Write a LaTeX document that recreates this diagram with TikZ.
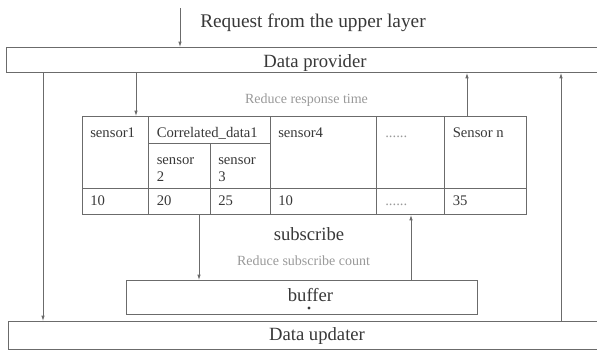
\documentclass[tikz,border=0pt]{standalone}
\usepackage{fontspec}
\setmainfont{Liberation Serif}
\usetikzlibrary{arrows.meta}
\definecolor{linegray}{gray}{0.42}
\definecolor{inkgray}{gray}{0.22}
\definecolor{notegray}{gray}{0.6}
\tikzset{
  box/.style={draw=linegray, line width=0.7pt, inner sep=0pt, anchor=north west},
  rule/.style={draw=linegray, line width=0.7pt},
  flow/.style={draw=linegray, line width=0.6pt, -{Latex[length=4pt,width=2.6pt]}},
  big/.style={text=inkgray, font=\fontsize{14}{16}\selectfont, inner sep=0pt, anchor=base},
  note/.style={text=notegray, font=\fontsize{10.5}{12}\selectfont, inner sep=0pt, anchor=base},
  cell/.style={text=inkgray, font=\fontsize{11}{12.75}\selectfont, inner sep=0pt, anchor=base west, align=left},
}

\begin{document}
\begin{tikzpicture}[x=0.75pt, y=-0.75pt]
		\useasboundingbox (0,0) rectangle (597,351);
		%%%%% BOXES %%%%%
		\node[box, minimum width=591*0.75pt, minimum height=25*0.75pt] (provider) at (6,47) {};
		\node[box, minimum width=444*0.75pt, minimum height=98*0.75pt] (tbl) at (82,116) {};
		\node[box, minimum width=351.5*0.75pt, minimum height=34*0.75pt] (buffer) at (125.5,280) {};
		\node[box, minimum width=589*0.75pt, minimum height=28*0.75pt] (updater) at (8,321) {};
		
		%%%%% TABLE GRID %%%%%
		\foreach \cx in {148.5,270,376,444.5}
			\draw[rule] (\cx,116) -- (\cx,214);
		\draw[rule] (82,188) -- (526,188);
		\draw[rule] (148.5,143) -- (270,143);
		\draw[rule] (210,143) -- (210,214);
		
		%%%%% TEXTS %%%%%
		\node[big, anchor=base west, font=\fontsize{14.5}{16}\selectfont] (reqtext) at (200,27) {Request from the upper layer};
		\node[big] (providertext) at (315,67) {Data provider};
		\node[note] (resptime) at (306.5,103) {Reduce response time};
		\node[big] (subtext) at (309,240) {subscribe};
		\node[note] (subcount) at (303.5,265) {Reduce subscribe count};
		\node[big] (buffertext) at (310.5,301) {buffer};
		\node[big] (updatertext) at (317,340) {Data updater};
		\fill[inkgray] (309,308) circle (1.6);
		
		% header row
		\node[cell] (s1) at (90,137) {sensor1};
		\node[cell] (cd) at (156.5,137) {Correlated\_data1};
		\node[cell] (s2) at (156.5,181) {sensor\\2};
		\node[cell] (s3) at (218,181) {sensor\\3};
		\node[cell] (s4) at (278,137) {sensor4};
		\node[cell, text=notegray] (more) at (385,137) {......};
		\node[cell] (sn) at (452.5,137) {Sensor n};
		% value row
		\foreach \vx/\val [count=\i] in {90/10,156.5/20,218/25,278/10,452.5/35}
			\node[cell] (v\i) at (\vx,205) {\val};
		\node[cell, text=notegray] (vmore) at (385,205) {......};
		
		%%%%% ARROWS %%%%%
		\coordinate (req) at (180,8);
		\coordinate (leftrail) at (43,0);
		\coordinate (rightrail) at (561,0);
		\coordinate (query) at (136,0);
		\coordinate (answer) at (467,0);
		\coordinate (sub) at (199,0);
		\coordinate (push) at (411,0);
		\draw[flow] (req) -- (req |- provider.north);
		\draw[flow] (leftrail |- provider.south) -- (leftrail |- updater.north);
		\draw[flow] (rightrail |- updater.north) -- (rightrail |- provider.south);
		\draw[flow] (query |- provider.south) -- (query |- tbl.north);
		\draw[flow] (answer |- tbl.north) -- (answer |- provider.south);
		\draw[flow] (sub |- tbl.south) -- (sub |- buffer.north);
		\draw[flow] (push |- buffer.north) -- (push |- tbl.south);
\end{tikzpicture}
\end{document}
